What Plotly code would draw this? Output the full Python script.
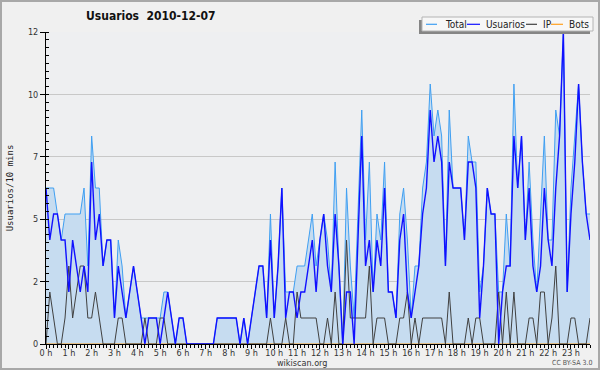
import plotly.graph_objects as go

# ---- data (10-minute slots, 144 per day) ----
usuarios = [6, 4, 5, 5, 4, 4, 2, 4, 3, 2, 3, 2, 7, 4, 5, 3, 4, 4, 1, 3, 2, 1, 2, 3,
            2, 1, 0, 1, 1, 1, 0, 1, 2, 1, 0, 1, 1, 0, 0, 0, 0, 0, 0, 0, 0, 1, 1, 1,
            1, 1, 1, 0, 1, 0, 1, 2, 3, 3, 1, 4, 1, 3, 6, 1, 2, 2, 1, 2, 2, 3, 4, 2,
            4, 5, 3, 2, 5, 3, 0, 2, 2, 0, 4, 8, 3, 4, 2, 4, 3, 6, 2, 2, 1, 4, 5, 2,
            1, 2, 3, 5, 6, 9, 7, 8, 7, 3, 7, 6, 6, 6, 4, 7, 7, 6, 1, 3, 6, 5, 5, 0,
            2, 3, 3, 8, 6, 8, 4, 6, 3, 2, 3, 6, 4, 3, 6, 8, 12, 2, 5, 7, 10, 7, 5, 4]
ip = [0, 2, 1, 0, 0, 1, 3, 1, 2, 3, 3, 1, 1, 2, 1, 0, 0, 0, 0, 1, 1, 0, 0, 0,
      0, 0, 1, 0, 0, 0, 1, 1, 0, 0, 0, 0, 0, 0, 0, 0, 0, 0, 0, 0, 0, 0, 0, 0,
      0, 0, 0, 0, 0, 0, 0, 0, 0, 0, 0, 1, 0, 0, 0, 1, 0, 0, 2, 1, 1, 1, 1, 1,
      0, 0, 1, 0, 2, 0, 0, 4, 1, 1, 1, 1, 1, 3, 0, 1, 1, 1, 0, 0, 0, 1, 1, 2,
      0, 1, 0, 1, 1, 1, 1, 1, 1, 0, 2, 0, 0, 0, 0, 1, 0, 1, 1, 0, 0, 0, 0, 2,
      0, 2, 0, 2, 0, 0, 0, 1, 1, 0, 2, 2, 0, 1, 3, 0, 0, 0, 1, 1, 0, 0, 0, 1]
total = [6, 6, 6, 5, 4, 5, 5, 5, 5, 5, 6, 3, 8, 6, 6, 3, 4, 4, 1, 4, 3, 1, 2, 3,
         2, 1, 1, 1, 1, 1, 1, 2, 2, 1, 0, 1, 1, 0, 0, 0, 0, 0, 0, 0, 0, 1, 1, 1,
         1, 1, 1, 0, 1, 0, 1, 2, 3, 3, 1, 5, 1, 3, 6, 2, 2, 2, 3, 3, 3, 4, 5, 3,
         4, 5, 4, 2, 7, 3, 0, 6, 3, 1, 5, 9, 4, 7, 2, 5, 4, 7, 2, 2, 1, 5, 6, 4,
         1, 3, 3, 6, 7, 10, 8, 9, 8, 3, 9, 6, 6, 6, 4, 8, 7, 7, 2, 3, 6, 5, 5, 2,
         2, 5, 3, 10, 6, 8, 4, 7, 4, 2, 5, 8, 4, 4, 9, 8, 12, 2, 6, 8, 10, 7, 5, 5]
bots = [0, 0, 0, 0, 0, 0, 0, 0, 0, 0, 0, 0, 0, 0, 0, 0, 0, 0, 0, 0, 0, 0, 0, 0,
        0, 0, 0, 0, 0, 0, 0, 0, 0, 0, 0, 0, 0, 0, 0, 0, 0, 0, 0, 0, 0, 0, 0, 0,
        0, 0, 0, 0, 0, 0, 0, 0, 0, 0, 0, 0, 0, 0, 0, 0, 0, 0, 0, 0, 0, 0, 0, 0,
        0, 0, 0, 0, 0, 0, 0, 0, 0, 0, 0, 0, 0, 0, 0, 0, 0, 0, 0, 0, 0, 0, 0, 0,
        0, 0, 0, 0, 0, 0, 0, 0, 0, 0, 0, 0, 0, 0, 0, 0, 0, 0, 0, 0, 0, 0, 0, 0,
        0, 0, 0, 0, 0, 0, 0, 0, 0, 0, 0, 0, 0, 0, 0, 0, 0, 0, 0, 0, 0, 0, 0, 0]
slots = [i / 6 for i in range(len(total))]          # hours of the day
hour_ticks = list(range(24))
hour_labels = [f"{h} h" for h in hour_ticks]
y_ticks = [0, 2.4, 4.8, 7.2, 9.6, 12]
y_labels = ["0", "2", "5", "7", "10", "12"]

FONT = "DejaVu Sans Condensed, DejaVu Sans, sans-serif"

# pixel helpers for layout decorations (plot area 46..590 x 32..344)
L, R, T, B = 46, 590, 32, 344
def px(x):
    return (x - L) / (R - L)
def py(y):
    return (B - y) / (B - T)

fig = go.Figure()
fig.add_trace(go.Scatter(x=slots, y=total, name="Total", mode="lines",
                         line=dict(color="#3f9ff2", width=1),
                         fill="tozeroy", fillcolor="#c6dcf0"))
fig.add_trace(go.Scatter(x=slots, y=bots, name="Bots", mode="lines",
                         line=dict(color="#ffa020", width=1)))
fig.add_trace(go.Scatter(x=slots, y=ip, name="IP", mode="lines",
                         line=dict(color="#404040", width=1)))
fig.add_trace(go.Scatter(x=slots, y=usuarios, name="Usuarios", mode="lines",
                         line=dict(color="#1010ff", width=1.4)))

shapes = [
    # outer frame
    dict(type="rect", xref="paper", yref="paper", x0=px(1), x1=px(599), y0=py(1), y1=py(369),
         line=dict(color="#a8a8a8", width=2), fillcolor="rgba(0,0,0,0)", layer="above"),
    # legend shadow + box
    dict(type="rect", xref="paper", yref="paper", x0=px(419), x1=px(590), y0=py(34), y1=py(20),
         line=dict(width=0), fillcolor="#858585", layer="above"),
    dict(type="rect", xref="paper", yref="paper", x0=px(422), x1=px(593), y0=py(31), y1=py(17),
         line=dict(color="#b4b4b4", width=1), fillcolor="#f7f7f7", layer="above"),
]
legend_items = [("Total", "#3f9ff2", 426, 437, 443),
                ("Usuarios", "#1010ff", 467, 480, 484),
                ("IP", "#404040", 526, 537, 541),
                ("Bots", "#ffa020", 551, 563, 567)]
annotations = []
for name, col, lx0, lx1, tx in legend_items:
    shapes.append(dict(type="line", xref="paper", yref="paper", x0=px(lx0), x1=px(lx1),
                       y0=py(24.3), y1=py(24.3), line=dict(color=col, width=1.2), layer="above"))
    annotations.append(dict(text=name, xref="paper", yref="paper", x=px(tx), y=py(24.5),
                            xanchor="left", yanchor="middle", showarrow=False,
                            font=dict(family=FONT, size=10, color="#222")))

annotations += [
    dict(text="<b>Usuarios\u00a0\u00a02010-12-07</b>", xref="paper", yref="paper",
         x=px(151), y=py(16), xanchor="center", yanchor="middle", showarrow=False,
         font=dict(family=FONT, size=12, color="#111")),
    dict(text="wikiscan.org", xref="paper", yref="paper", x=px(302), y=py(363),
         xanchor="center", yanchor="middle", showarrow=False,
         font=dict(family=FONT, size=9, color="#333")),
    dict(text="CC BY-SA 3.0", xref="paper", yref="paper", x=px(572), y=py(363),
         xanchor="center", yanchor="middle", showarrow=False,
         font=dict(family=FONT, size=7, color="#555")),
]

fig.update_layout(
    width=600, height=370,
    margin=dict(l=L, r=600 - R, t=T, b=370 - B, pad=0),
    paper_bgcolor="#f0f0f0", plot_bgcolor="#eeeff1",
    showlegend=False,
    shapes=shapes, annotations=annotations,
    xaxis=dict(range=[0, slots[-1]], tickmode="array", tickvals=hour_ticks, ticktext=hour_labels,
               ticks="outside", ticklen=4, tickcolor="#000", tickwidth=1,
               ticklabelstandoff=-4,
               showline=True, linecolor="#000", linewidth=1, showgrid=False, zeroline=False,
               tickfont=dict(family=FONT, size=9, color="#333"),
               minor=dict(tickmode="array", tickvals=slots, ticks="outside", ticklen=3,
                          tickcolor="#000", showgrid=False)),
    yaxis=dict(range=[0, 12], tickmode="array", tickvals=y_ticks, ticktext=y_labels,
               ticks="outside", ticklen=5, tickcolor="#000",
               showline=True, linecolor="#000", linewidth=1,
               showgrid=True, gridcolor="#c8c8c8", gridwidth=1, zeroline=False,
               tickfont=dict(family=FONT, size=9, color="#333"),
               title=dict(text="Usuarios/10 mins", standoff=12,
                          font=dict(family="DejaVu Sans Mono, monospace", size=9, color="#222")),
               minor=dict(tickmode="array", tickvals=[k * 0.3 for k in range(41)],
                          ticks="inside", ticklen=3, tickcolor="#000", showgrid=False)),
)

fig.write_html("out.html", config={"displayModeBar": False},
               post_script="document.body.style.margin='0';document.body.style.overflow='hidden';")
